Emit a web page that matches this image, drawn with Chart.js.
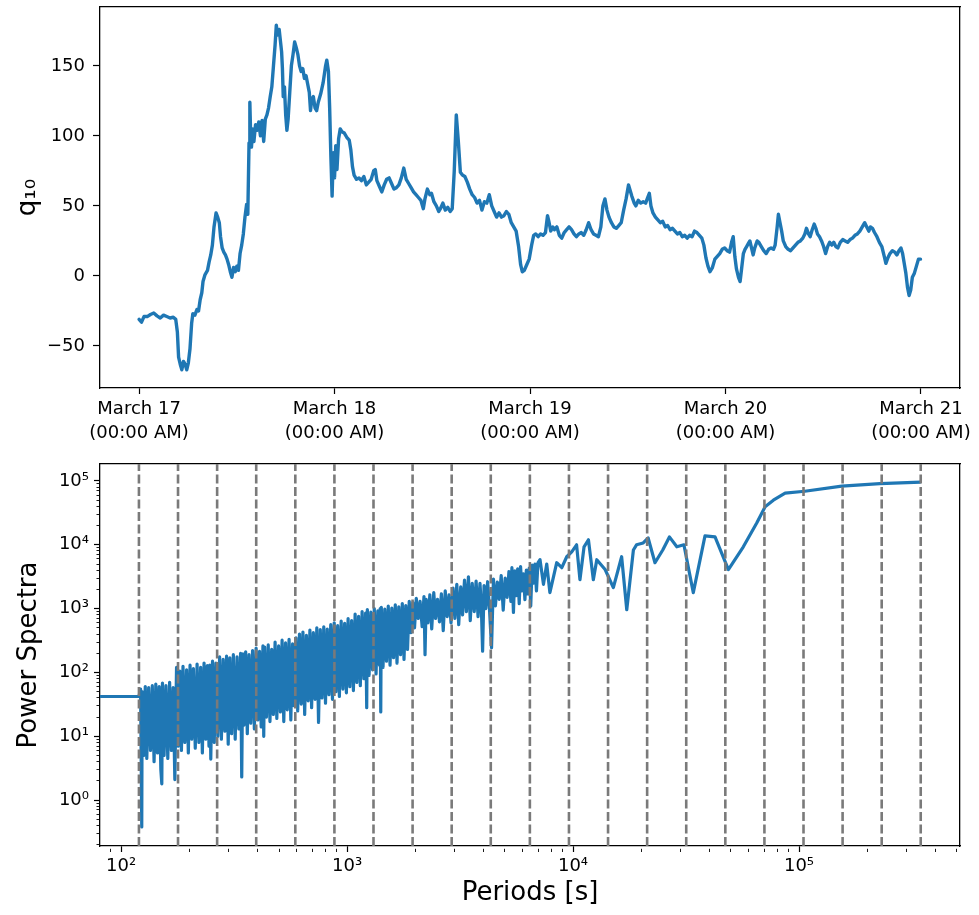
<!DOCTYPE html>
<html>
<head>
<meta charset="utf-8">
<script src="https://cdn.jsdelivr.net/npm/chart.js"></script>
<style>
html,body{margin:0;padding:0;background:#fff;}
#wrap{position:relative;width:979px;height:915px;overflow:hidden;}
#c1{position:absolute;left:0;top:0;}
#c2{position:absolute;left:0;top:450px;}
</style>
</head>
<body>
<div id="wrap">
<canvas id="c1" width="979" height="450"></canvas>
<canvas id="c2" width="979" height="465"></canvas>
</div>
<script>
// ---------- Top panel: q10 time series (x in hours after March 17 00:00) ----------
const timeHours = [
  0,0.3,0.6,1.0,1.4,1.8,2.2,2.6,3.0,3.4,
  3.8,4.2,4.5,4.7,4.85,5.05,5.25,5.45,5.65,5.85,
  6.05,6.25,6.45,6.6,6.85,7.1,7.3,7.5,7.7,7.85,
  8.1,8.4,8.6,8.8,9.0,9.2,9.45,9.65,9.85,10.0,
  10.2,10.4,10.6,10.8,11.0,11.2,11.4,11.6,11.8,12.0,
  12.2,12.4,12.6,12.8,13.0,13.2,13.35,13.5,13.6,13.7,
  13.8,13.95,14.1,14.3,14.5,14.7,14.9,15.1,15.3,15.5,
  15.7,15.9,16.1,16.3,16.5,16.7,16.85,17.0,17.2,17.35,
  17.5,17.6,17.7,17.85,18.0,18.15,18.3,18.5,18.7,18.9,
  19.1,19.3,19.5,19.7,19.9,20.1,20.3,20.5,20.7,20.9,
  21.05,21.2,21.4,21.6,21.8,22.0,22.3,22.6,22.9,23.05,
  23.25,23.4,23.55,23.7,23.85,24.0,24.15,24.3,24.5,24.7,
  24.9,25.2,25.5,25.8,26.0,26.2,26.4,26.7,27.0,27.3,
  27.6,27.9,28.2,28.5,28.8,29.0,29.2,29.5,29.8,30.1,
  30.4,30.7,31.0,31.3,31.6,31.9,32.2,32.5,32.8,33.1,
  33.4,33.7,34.0,34.3,34.6,34.9,35.1,35.4,35.7,35.9,
  36.2,36.5,36.8,37.0,37.3,37.6,37.9,38.2,38.45,38.7,
  38.95,39.2,39.45,39.7,40.0,40.3,40.6,40.9,41.2,41.5,
  41.8,42.1,42.4,42.7,43.0,43.3,43.6,43.9,44.2,44.5,
  44.8,45.1,45.4,45.7,46.0,46.3,46.6,46.85,47.05,47.3,
  47.6,47.9,48.2,48.45,48.7,49.0,49.3,49.6,49.9,50.15,
  50.35,50.55,50.8,51.0,51.3,51.6,51.9,52.2,52.5,52.8,
  53.1,53.4,53.7,54.0,54.3,54.6,54.9,55.2,55.5,55.8,
  56.1,56.4,56.7,56.95,57.2,57.45,57.7,58.0,58.3,58.6,
  58.9,59.2,59.5,59.8,60.1,60.3,60.5,60.8,61.0,61.3,
  61.6,61.9,62.2,62.45,62.65,62.85,63.1,63.4,63.7,64.0,
  64.3,64.6,64.9,65.2,65.5,65.8,66.1,66.4,66.7,67.0,
  67.3,67.6,67.9,68.2,68.5,68.8,69.1,69.35,69.6,69.85,
  70.1,70.4,70.7,71.0,71.3,71.6,71.9,72.2,72.5,72.75,
  72.95,73.15,73.35,73.6,73.8,74.0,74.2,74.4,74.6,74.8,
  75.0,75.2,75.4,75.6,75.9,76.1,76.4,76.7,77.0,77.3,
  77.6,77.9,78.1,78.35,78.5,78.7,78.9,79.1,79.4,79.7,
  80.0,80.3,80.6,80.9,81.2,81.5,81.75,81.95,82.2,82.4,
  82.65,82.9,83.1,83.3,83.55,83.8,84.05,84.3,84.55,84.8,
  85.05,85.3,85.55,85.8,86.1,86.4,86.7,87.0,87.3,87.6,
  87.9,88.2,88.5,88.8,89.1,89.35,89.6,89.8,90.05,90.3,
  90.6,90.9,91.2,91.5,91.7,91.95,92.2,92.5,92.8,93.05,
  93.3,93.55,93.75,93.95,94.15,94.35,94.55,94.75,94.95,95.2,
  95.45,95.7,95.95
];
const q10Values = [
  -31,-33,-29,-29,-27.5,-26.5,-28.5,-30,-28,-29,
  -30,-29.5,-31,-40,-58,-63,-67,-61,-63,-67,
  -62,-52,-34,-27,-28,-24,-25,-17,-12,-4,
  1,4,10,15,22,35,45,42,38,28,
  20,17,15,12,8,3,-1,6,3,7,
  4,16,22,30,42,51,44,95,124,100,
  92,105,96,108,104,110,100,111,96,112,
  115,120,128,135,150,165,179,172,176,168,
  160,148,128,135,115,104,112,131,150,158,
  167,163,158,150,146,148,141,143,137,131,
  118,126,128,120,118,124,130,138,150,154,
  146,120,85,57,88,70,93,76,98,105,
  103,102,99,97,90,78,72,69,70,68,
  71,65,67,69,75,76,68,64,60,65,
  69,70,66,62,63,65,70,77,69,66,
  63,60,58,56,54,48,55,62,58,59,
  53,50,46,48,52,47,49,46,48,75,
  115,96,74,72,71,67,62,58,56,52,
  54,47,53,52,58,50,46,42,45,42,
  43,46,44,38,35,32,21,8,3,4,
  8,12,22,29,30,28,30,29,31,43,
  38,32,35,33,35,29,27,31,33,35,
  33,30,28,30,31,29,33,38,33,30,
  29,28,35,50,55,47,42,38,35,34,
  36,38,47,55,65,61,57,52,50,54,
  52,53,52,56,59,50,45,42,40,38,
  39,35,36,33,34,32,30,31,28,29,
  27,29,28,32,31,29,27,22,13,7,
  3,6,12,14,16,19,20,18,17,24,
  28,14,5,-1,-4,6,16,19,21,23,
  25,20,15,20,25,24,21,18,16,19,
  20,19,22,35,44,38,32,25,21,19,
  18,20,22,24,25,27,30,34,30,28,
  33,37,34,30,28,25,21,16,21,24,
  22,24,21,20,24,26,25,24,26,27,
  29,30,32,35,38,35,32,35,34,31,
  28,24,21,14,9,13,16,18,17,15,
  18,20,16,9,2,-8,-14,-10,-1,2,
  7,12,12
];
const dayTicks = [0, 24, 48, 72, 96];
const dayTickLabels = [
  ['March 17','(00:00 AM)'],
  ['March 18','(00:00 AM)'],
  ['March 19','(00:00 AM)'],
  ['March 20','(00:00 AM)'],
  ['March 21','(00:00 AM)']
];
const qTicks = [-50, 0, 50, 100, 150];
const qTickLabels = ['\u221250', '0', '50', '100', '150'];
const topXRange = [-4.8, 100.8];
const topYRange = [-80, 192];

// ---------- Bottom panel: power spectrum vs period ----------
const periods = [
  60,120,122,123.5,124,126,128,130,132.5,135,
  137.5,140,142.5,145,147.5,150,151.5,152.5,155,158,
  161,164,167,170,173,176,179,182,185,188,
  191.5,195,198.5,202,205.5,209,213,217,221,225,
  229,233,237,241,245,247,249.5,254,258.5,263,
  268,273,278,283,288,293,298,303,308.5,314,
  320,326,332,338,342,346,350,356,362,368.5,
  375,382,389,396,403,410,417,424.5,428,432,
  440,448,456,464,472,480.5,489,498,507,516,
  525,534.5,544,554,564,574,584,594.5,605,616,
  627,638,649.5,661,673,685,697,709.5,722,735,
  748,761.5,775,789,803,817.5,832,847,862,877.5,
  893,909,925,942,959,976,993.5,1011,1029,1048,
  1067,1086,1105,1125,1145,1166,1187,1208,1222,1230,
  1252,1274,1297,1320,1344,1368,1393,1402,1410,1418,
  1443,1469,1495,1522,1550,1578,1606,1635,1664,1694,
  1725,1756,1787,1819,1852,1885,1919,1954,1989,
  2025,2065,2105,2150,2190,2214,2240,2280,2325,2370,
  2420,2465,2515,2565,2615,2665,2720,2775,2830,2885,
  2945,3000,3060,3120,3185,3245,3310,3375,3445,3510,
  3580,3655,3725,3800,3875,3925,3980,4040,4110,4190,
  4275,4360,4445,4535,4625,4715,4810,4910,5010,5110,
  5205,5310,5365,5450,5525,5610,5690,5780,5860,5950,
  6035,6125,6215,6310,6400,6500,6595,6700,6790,6890,
  6995,7145,7400,7650,7900,8470,8920,9380,9870,10370,
  10730,11190,11700,12300,12740,13870,15080,16410,17290,18500,
  19100,20450,21500,23050,24950,26700,28800,30950,34060,38370,
  42500,48700,56700,65000,70800,77000,86800,106000,154600,228000,
  345600
];
const power = [
  42,42,55,0.38,50,5,60,4.5,58,6,
  62,4,66,5.5,60,3,1.8,68,5,62,
  4.5,70,6,58,2.1,120,7,105,6,125,
  8,110,5.5,130,9,115,6.5,135,8,120,
  5.5,140,9,128,7,130,4.4,150,8,140,
  10,175,9,160,12,180,7.5,170,11,190,
  9,175,13,200,2.3,195,15,210,11,190,
  16,220,13,240,18,215,14,260,10,250,
  20,270,17,230,22,300,19,260,24,320,
  17,290,26,330,18,280,30,350,25,400,
  32,430,22,380,36,460,28,420,38,500,
  16.5,470,40,520,33,480,45,560,38,600,
  50,540,42,640,55,590,48,700,60,650,
  52,820,70,760,62,900,80,850,28,970,
  90,880,110,1000,95,920,130,1000,24,1050,
  120,980,150,1100,130,1020,170,1150,140,1070,
  190,1200,160,1120,230,1300,420,1250,500,
  1450,700,1300,520,1550,190,1400,600,1650,480,
  1780,700,1400,620,1700,450,1900,750,1650,600,
  2100,700,2400,560,2200,800,2800,900,3160,650,
  2500,900,2700,750,2500,1200,215,2300,1000,2640,
  900,245,2900,1100,2600,1400,3300,950,3000,1500,
  3800,1300,4380,870,3900,1600,4200,1200,4550,1900,
  3500,1380,4000,1700,4300,1100,4800,2500,5000,1900,
  5200,5840,2400,5000,1780,5240,4380,6500,7760,10000,
  2840,9300,12000,2840,5840,4100,2140,6500,960,8300,
  10000,10700,12800,5240,8300,13300,9300,10000,1780,13800,
  13300,4100,9300,22000,39600,50000,64700,69000,83000,91000,
  96000
];
// dashed reference periods (2 min ... 4 days)
const markerPeriods = [
  120,178.7,266.2,396.4,590.4,879.3,1309.5,1950.3,2904.6,4325.8,
  6442.4,9594.6,14289,21281,31694,47202,70298,104695,155922,232215,345600
];
const xMajorTicks = [100, 1000, 10000, 100000];
const xMajorLabels = ['10\u00B2', '10\u00B3', '10\u2074', '10\u2075'];
const xMinorTicks = [90,200,300,400,500,600,700,800,900,2000,3000,4000,5000,6000,7000,8000,9000,
  20000,30000,40000,50000,60000,70000,80000,90000,200000,300000,400000,500000];
const yMajorTicks = [1, 10, 100, 1000, 10000, 100000];
const yMajorLabels = ['10\u2070', '10\u00B9', '10\u00B2', '10\u00B3', '10\u2074', '10\u2075'];
const yMinorTicks = [0.2,0.3,0.4,0.5,0.6,0.7,0.8,0.9,2,3,4,5,6,7,8,9,20,30,40,50,60,70,80,90,
  200,300,400,500,600,700,800,900,2000,3000,4000,5000,6000,7000,8000,9000,
  20000,30000,40000,50000,60000,70000,80000,90000];
const bottomXRange = [80.7, 515700];
const bottomYRange = [0.191, 184500];

// ---------- styling ----------
const FONT = "'DejaVu Sans', 'Liberation Sans', sans-serif";
const BLUE = '#1f77b4';
const INK = '#000000';
const tickFont = {family: FONT, size: 18, lineHeight: 1.3};
const titleFont = {family: FONT, size: 26, lineHeight: 1.2};
const spine = {display: true, color: INK, width: 1.3};
const frameAxis = (pos) => ({
  type: 'linear', position: pos, display: true, min: 0, max: 1,
  ticks: {display: false}, grid: {display: false, drawTicks: false, tickLength: 0},
  border: spine
});
const noPad = s => { s.paddingTop = 0; s.paddingBottom = 0; s.paddingLeft = 0; s.paddingRight = 0; };

Chart.defaults.font.family = FONT;

// ---------- Top chart ----------
new Chart(document.getElementById('c1'), {
  type: 'line',
  data: {
    datasets: [{
      data: timeHours.map((h, i) => ({x: h, y: q10Values[i]})),
      borderColor: BLUE, borderWidth: 3.4, pointRadius: 0, tension: 0,
      fill: false, borderJoinStyle: 'round', borderCapStyle: 'round', clip: 0
    }]
  },
  options: {
    responsive: false, animation: false, devicePixelRatio: 1,
    layout: {padding: {left: 0, right: 19, top: 7, bottom: 0}},
    plugins: {legend: {display: false}, tooltip: {enabled: false}},
    scales: {
      x: {
        type: 'linear', position: 'bottom', min: topXRange[0], max: topXRange[1], bounds: 'data',
        afterBuildTicks: s => { s.ticks = dayTicks.map(v => ({value: v})); },
        afterFit: s => { s.height = 62; noPad(s); },
        ticks: {autoSkip: false, maxRotation: 0, color: INK, font: tickFont, padding: 4,
          callback: (v, i) => dayTickLabels[i]},
        grid: {display: true, drawOnChartArea: false, drawTicks: true, tickLength: 6, tickColor: INK, tickWidth: 1.2},
        border: spine
      },
      xTop: frameAxis('top'),
      y: {
        type: 'linear', position: 'left', min: topYRange[0], max: topYRange[1], bounds: 'data',
        afterBuildTicks: s => { s.ticks = qTicks.map(v => ({value: v})); },
        afterFit: s => { s.width = 100; noPad(s); },
        ticks: {color: INK, font: tickFont, padding: 8, callback: (v, i) => qTickLabels[i]},
        grid: {display: true, drawOnChartArea: false, drawTicks: true, tickLength: 7, tickColor: INK, tickWidth: 1.2},
        border: spine,
        title: {display: true, text: 'q\u2081\u2080', color: INK, font: titleFont, padding: {top: 13, bottom: 0}}
      },
      yRight: frameAxis('right')
    }
  }
});

// ---------- Bottom chart ----------
const isXMajor = v => xMajorTicks.includes(v);
const isYMajor = v => yMajorTicks.includes(v);
const markerSets = markerPeriods.map(p => ({
  data: [{x: p, y: bottomYRange[0]}, {x: p, y: bottomYRange[1]}],
  borderColor: '#7a7a7a', borderWidth: 2.6, borderDash: [9, 3.5],
  pointRadius: 0, fill: false, clip: 0
}));
new Chart(document.getElementById('c2'), {
  type: 'line',
  data: {
    datasets: markerSets.concat([{
      data: periods.map((p, i) => ({x: p, y: power[i]})),
      borderColor: BLUE, borderWidth: 3.2, pointRadius: 0, tension: 0,
      fill: false, borderJoinStyle: 'round', clip: 0
    }])
  },
  options: {
    responsive: false, animation: false, devicePixelRatio: 1,
    layout: {padding: {left: 0, right: 19, top: 14, bottom: 0}},
    plugins: {legend: {display: false}, tooltip: {enabled: false}},
    scales: {
      x: {
        type: 'logarithmic', position: 'bottom', min: bottomXRange[0], max: bottomXRange[1], bounds: 'data',
        afterBuildTicks: s => { s.ticks = xMajorTicks.concat(xMinorTicks).sort((a, b) => a - b).map(v => ({value: v})); },
        afterFit: s => { s.height = 69; noPad(s); },
        ticks: {autoSkip: false, maxRotation: 0, color: INK, font: {family: FONT, size: 18}, padding: 4,
          callback: (v) => isXMajor(v) ? xMajorLabels[xMajorTicks.indexOf(v)] : ''},
        grid: {display: true, drawOnChartArea: false, drawTicks: true, tickLength: 6, tickColor: INK,
          tickWidth: c => (c.tick && isXMajor(c.tick.value)) ? 1.2 : 0.9,
          tickBorderDash: c => (c.tick && isXMajor(c.tick.value)) ? [] : [0, 2.5, 3.5, 40]},
        border: spine,
        title: {display: true, text: 'Periods [s]', color: INK, font: titleFont, padding: {top: 0, bottom: 6}}
      },
      xTop: frameAxis('top'),
      y: {
        type: 'logarithmic', position: 'left', min: bottomYRange[0], max: bottomYRange[1], bounds: 'data',
        afterBuildTicks: s => { s.ticks = yMajorTicks.concat(yMinorTicks).sort((a, b) => a - b).map(v => ({value: v})); },
        afterFit: s => { s.width = 100; noPad(s); },
        ticks: {autoSkip: false, color: INK, font: {family: FONT, size: 18}, padding: 5,
          callback: (v) => isYMajor(v) ? yMajorLabels[yMajorTicks.indexOf(v)] : ''},
        grid: {display: true, drawOnChartArea: false, drawTicks: true, tickLength: 6, tickColor: INK,
          tickWidth: c => (c.tick && isYMajor(c.tick.value)) ? 1.2 : 0.9,
          tickBorderDash: c => (c.tick && isYMajor(c.tick.value)) ? [] : [0, 2.5, 3.5, 40]},
        border: spine,
        title: {display: true, text: 'Power Spectra', color: INK, font: titleFont, padding: {top: 14, bottom: 0}}
      },
      yRight: frameAxis('right')
    }
  }
});
</script>
</body>
</html>
